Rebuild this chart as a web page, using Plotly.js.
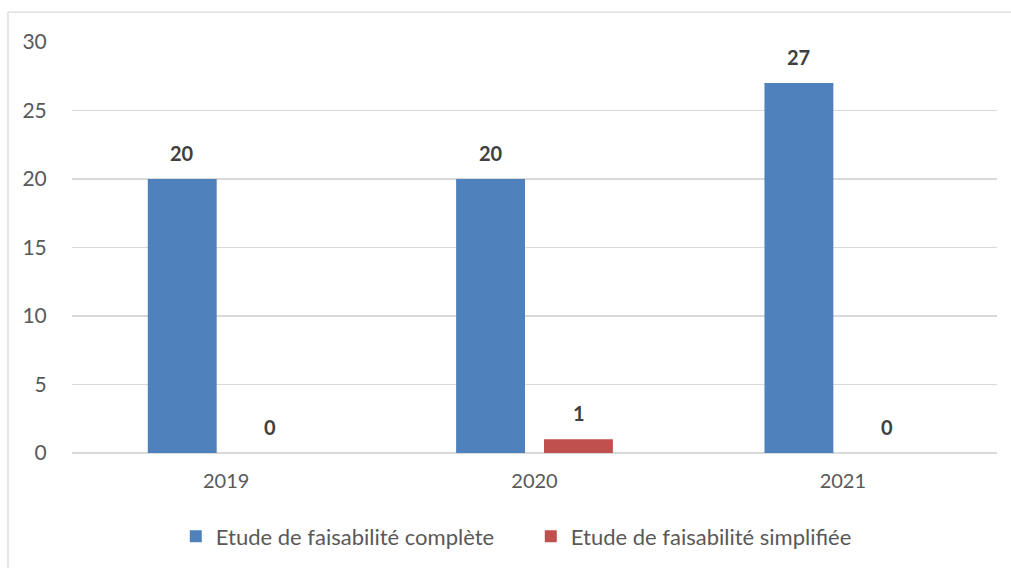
<!DOCTYPE html>
<html>
<head>
<meta charset="utf-8">
<script src="https://cdn.plot.ly/plotly-3.0.1.min.js"></script>
<style>html,body{margin:0;padding:0;background:#fff;}#chart{width:1011px;height:568px;}</style>
</head>
<body>
<div id="chart"></div>
<script>
const categories = ['2019', '2020', '2021'];
const completeValues = [20, 20, 27];
const simplifiedValues = [0, 1, 0];
const seriesNames = ['Etude de faisabilité complète', 'Etude de faisabilité simplifiée'];
const yTicks = [0, 5, 10, 15, 20, 25, 30];

const FONT = 'Lato, "Open Sans", sans-serif';

const traces = [
  {type: 'bar', name: seriesNames[0], x: categories, y: completeValues,
   marker: {color: '#4f81bd'}, hoverinfo: 'none'},
  {type: 'bar', name: seriesNames[1], x: categories, y: simplifiedValues,
   marker: {color: '#c0504d'}, hoverinfo: 'none'}
];

const annotations = [];
categories.forEach((c, i) => {
  annotations.push({x: i, y: completeValues[i], xref: 'x', yref: 'y', text: '<b>' + completeValues[i] + '</b>',
    showarrow: false, xshift: -44, yshift: 12, yanchor: 'bottom',
    font: {family: FONT, size: 20, color: '#404040'}});
  annotations.push({x: i, y: simplifiedValues[i], xref: 'x', yref: 'y', text: '<b>' + simplifiedValues[i] + '</b>',
    showarrow: false, xshift: 44, yshift: 12, yanchor: 'bottom',
    font: {family: FONT, size: 20, color: '#404040'}});
});

const layout = {
  width: 1011, height: 568,
  margin: {l: 72, r: 14, t: 42, b: 114},
  paper_bgcolor: '#fff', plot_bgcolor: '#fff',
  barmode: 'group', bargap: 0.43, bargroupgap: 0.216,
  font: {family: FONT, size: 20, color: '#595959'},
  xaxis: {type: 'category', range: [-0.5, 2.5], showgrid: false, zeroline: false, showline: false,
    ticks: 'outside', ticklen: 10, tickcolor: 'rgba(0,0,0,0)',
    tickfont: {family: FONT, size: 20, color: '#595959'}},
  yaxis: {range: [0, 30], tickvals: yTicks, ticktext: yTicks.map(String), showgrid: true,
    gridcolor: '#d9d9d9', gridwidth: 1.4, zeroline: true, zerolinecolor: '#d9d9d9', zerolinewidth: 1.4,
    showline: false, ticks: 'outside', ticklen: 20, tickcolor: 'rgba(0,0,0,0)',
    tickfont: {family: FONT, size: 21, color: '#595959'}},
  showlegend: true,
  legend: {orientation: 'h', x: 0.496, xanchor: 'center', y: -0.2, yanchor: 'middle',
    entrywidth: 310, entrywidthmode: 'pixels',
    font: {family: FONT, size: 22, color: '#595959'}},
  annotations: annotations,
  shapes: [
    {type: 'line', xref: 'paper', yref: 'paper', x0: (8 - 72) / 925, x1: (1011 - 72) / 925,
      y0: (454 - 12) / 412, y1: (454 - 12) / 412, line: {color: '#d9d9d9', width: 1.3}},
    {type: 'line', xref: 'paper', yref: 'paper', x0: (8 - 72) / 925, x1: (8 - 72) / 925,
      y0: (454 - 12) / 412, y1: (454 - 570) / 412, line: {color: '#d9d9d9', width: 1.3}}
  ]
};

Plotly.newPlot('chart', traces, layout, {displayModeBar: false, staticPlot: true});
</script>
</body>
</html>
